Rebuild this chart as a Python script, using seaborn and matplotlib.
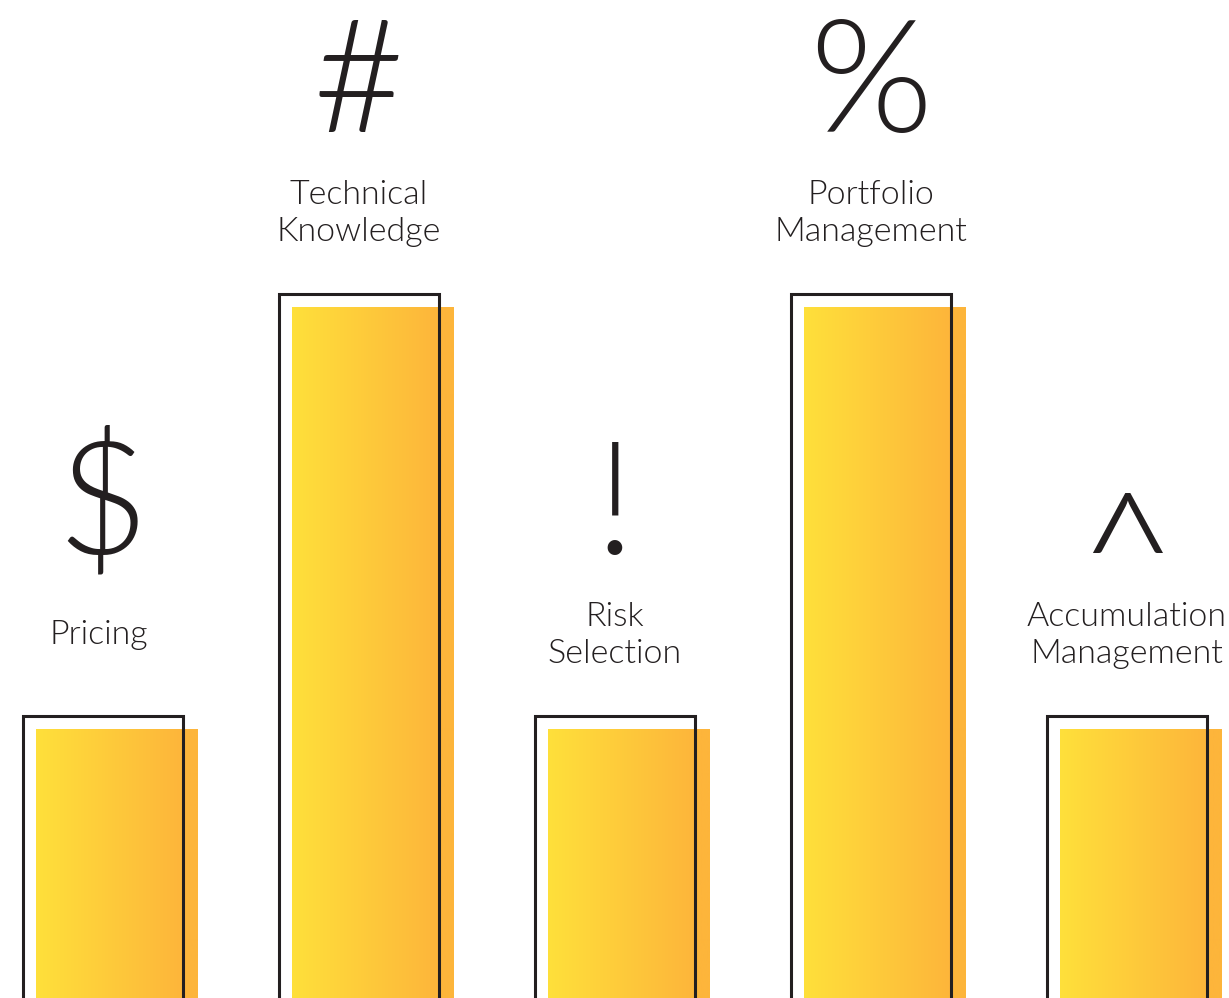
import numpy as np
import pandas as pd
import seaborn as sns
import matplotlib
matplotlib.use("Agg")
import matplotlib.pyplot as plt
from matplotlib.colors import LinearSegmentedColormap
from matplotlib.transforms import ScaledTranslation

# Skill ratings per underwriting competency
categories = ["Pricing", "Technical\nKnowledge", "Risk\nSelection",
              "Portfolio\nManagement", "Accumulation\nManagement"]
ratings = [3, 6, 3, 6, 3]
symbols = ["$", "#", "!", "%", "^"]

INK = "#231F20"
WARM = "#FDB53B"
# The ramp reaches its warm end just before the bar's right edge, then holds
gradient = LinearSegmentedColormap.from_list(
    "sun", [(0, "#FFE03A"), (0.915, WARM), (1, WARM)])

DPI = 100
W, H = 1229, 998
sns.set_style("white")
plt.rcParams["font.family"] = ["Lato", "DejaVu Sans"]

fig = plt.figure(figsize=(W / DPI, H / DPI), dpi=DPI)
ax = fig.add_axes([0, 0, 1, 1])
df = pd.DataFrame({"skill": categories, "rating": ratings})

sns.barplot(data=df, x="skill", y="rating", color=WARM, saturation=1,
            width=0.63, ax=ax)
n_filled = len(ax.patches)
sns.barplot(data=df, x="skill", y="rating", fill=False, color=INK,
            saturation=1, width=0.626, linewidth=2.2, ax=ax, err_kws={"linewidth": 0})

# Scale: one rating point spans about 140.67 px; the baseline sits below the frame
unit = 140.67
base = 729.3 + 3 * unit
xlim = (-116.6 / 256, (W - 116.6) / 256)
ylim = ((base - H) / unit, base / unit)
ax.axis("off")

px = 1 / DPI
filled = ax.patches[:n_filled]
outlines = ax.patches[n_filled:]
shift = ScaledTranslation(-13.9 * px, 13.5 * px, fig.dpi_scale_trans)

ramp = np.linspace(0, 1, 256).reshape(1, -1)
for bar in filled:
    x0, w = bar.get_x(), bar.get_width()
    im = ax.imshow(ramp, cmap=gradient, aspect="auto", zorder=2.5,
                   extent=[x0, x0 + w, 0, bar.get_height()])
ax.set_xlim(*xlim)
ax.set_ylim(*ylim)

for bar in outlines:
    bar.set_transform(bar.get_data_transform() + shift)
    bar.set_zorder(3)
    bar.set_joinstyle("miter")

PT = 0.72  # points per pixel at this dpi
for bar, label, sym in zip(outlines, categories, symbols):
    cx = bar.get_x() + bar.get_width() / 2
    top = bar.get_height()
    two_lines = "\n" in label
    lift = 53 if two_lines else 72
    nudge = 0 if two_lines else -3.5
    ax.annotate(label, (cx, top), xytext=((-13.9 + nudge) * PT, (13.5 + lift) * PT),
                textcoords="offset points", ha="center", va="baseline",
                fontsize=24.5, fontweight=300, color=INK, linespacing=1.28)
    # The caret glyph sits high in this face, so it is dropped onto the baseline
    caret = sym == "^"
    ax.annotate(sym, (cx, top),
                xytext=(-13.9 * PT, (13.5 + 162 - (61 if caret else 0)) * PT),
                textcoords="offset points", ha="center", va="baseline",
                fontsize=124 if caret else 114, fontweight=300, color=INK)

fig.savefig("out.png", dpi=DPI, facecolor="white")
